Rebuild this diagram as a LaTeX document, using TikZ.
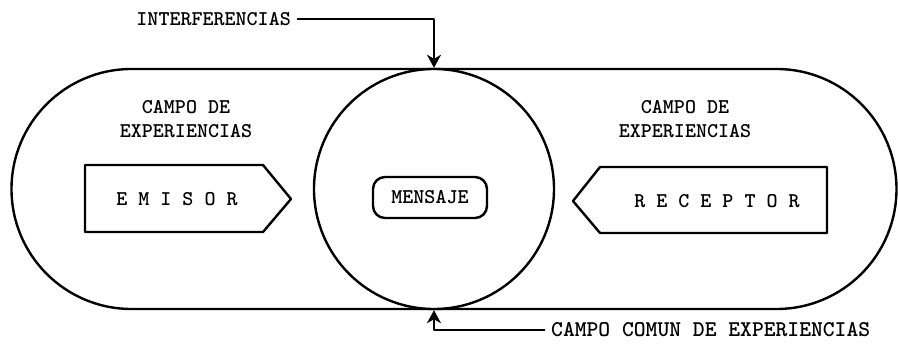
\documentclass[tikz,border=0pt]{standalone}
\usetikzlibrary{arrows.meta,shapes.misc}
\begin{document}
\begin{tikzpicture}[x=1pt,y=-1pt,
  line/.style={line width=2.4pt, line join=round},
  lbl/.style={font=\ttfamily\bfseries\fontsize{21}{24}\selectfont, inner sep=0pt, align=center},
  tip/.style={-{Stealth[length=13pt,width=14pt,inset=4pt]}}]
\useasboundingbox (0,0) rectangle (898,348);
% stadium
\node[line, draw, rounded rectangle, minimum width=885pt, minimum height=240pt, inner sep=0pt] (field) at (454,189) {};
% circle
\node[line, draw, fill=white, circle, minimum size=240pt, inner sep=0pt] (msgc) at (434,189) {};
\node[line, draw, rounded corners=12pt, minimum width=114pt, minimum height=41pt, inner sep=0pt, lbl] (mensaje) at (430,197.5) {MENSAJE};
% emisor
\draw[line] (85,165) -- (263,165) -- (291,199) -- (263,232) -- (85,232) -- cycle;
\node[lbl] (emisor) at (177,199) {E M I S O R};
% receptor
\draw[line] (827,167) -- (600,167) -- (573,201) -- (600,233) -- (827,233) -- cycle;
\node[lbl] (receptor) at (717,201) {R E C E P T O R};
% campo labels
\node[lbl] (cl) at (186,119) {CAMPO DE\\EXPERIENCIAS};
\node[lbl] (cr) at (685,119) {CAMPO DE\\EXPERIENCIAS};
% interferencias
\node[lbl, anchor=east] (interf) at (291,19) {INTERFERENCIAS};
\coordinate (ic) at (msgc.north |- interf);
\draw[line, tip] ([xshift=6pt]interf.east) -- (ic) -- (msgc.north);
% campo comun
\node[lbl, font=\ttfamily\bfseries\fontsize{22.5}{26}\selectfont, anchor=west] (comun) at (551,330) {CAMPO COMUN DE EXPERIENCIAS};
\coordinate (cc) at (msgc.south |- comun);
\draw[line, tip] ([xshift=-6pt]comun.west) -- (cc) -- (msgc.south);
\end{tikzpicture}
\end{document}
